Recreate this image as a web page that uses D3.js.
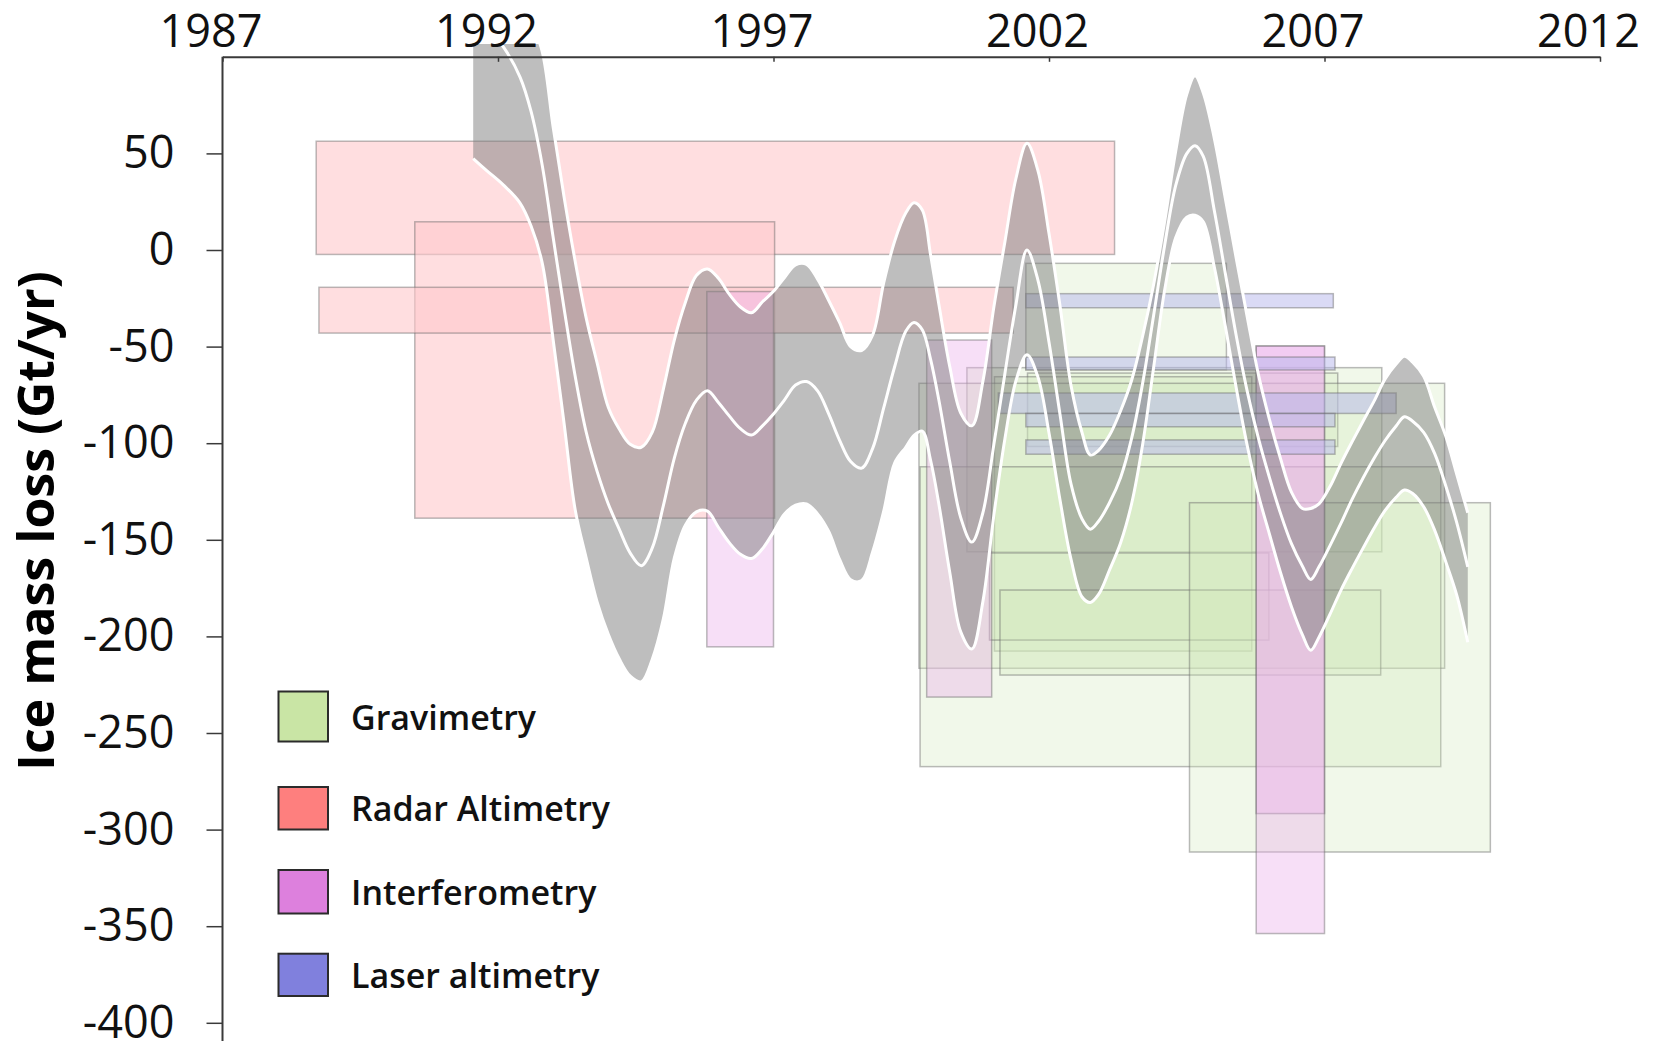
<!DOCTYPE html>
<html>
<head>
<meta charset="utf-8">
<script src="https://cdn.jsdelivr.net/npm/d3@7"></script>
<style>
  html, body { margin: 0; padding: 0; background: #ffffff; }
  svg { display: block; }
  text { font-family: "Open Sans", "DejaVu Sans", sans-serif; }
</style>
</head>
<body>
<svg id="chart" width="1665" height="1041"></svg>
<script>
// ---------- data ----------
const yearTicks = [1987, 1992, 1997, 2002, 2007, 2012];
const massTicks = [50, 0, -50, -100, -150, -200, -250, -300, -350, -400];

const methods = ["Gravimetry", "Radar Altimetry", "Interferometry", "Laser altimetry"];
const methodSwatches = ["#c9e5a5", "#fe7f7e", "#dd80dd", "#8080dd"];

// Published estimates: [start year, end year, upper bound, lower bound] in Gt/yr
const gravimetry = [
  [2001.58, 2005.22,   -6.9,  -62.0],
  [2000.51, 2008.04,  -60.9, -156.2],
  [2001.61, 2007.24,  -63.7, -101.7],
  [2001.01, 2005.68,  -65.6, -207.6],
  [1999.64, 2009.18,  -69.0, -216.5],
  [1999.66, 2009.11, -112.2, -267.4],
  [2000.92, 2005.99, -156.8, -201.9],
  [2001.11, 2008.02, -176.0, -220.0],
  [2004.55, 2010.01, -130.8, -311.6]
];
const radarAltimetry = [
  [1988.70, 2003.19,  56.3,   -2.3],
  [1990.49, 1997.02,  14.6, -138.8],
  [1988.75, 2001.35, -19.3,  -43.0]
];
const interferometry = [
  [1995.79, 1997.00, -21.5, -205.4],
  [1999.78, 2000.96, -46.6, -231.4],
  [2005.76, 2007.00, -49.7, -291.7],
  [2005.76, 2007.00, -49.7, -353.8]
];
const laserAltimetry = [
  [2001.58, 2007.16, -22.6,  -29.9],
  [2001.58, 2007.19, -55.4,  -62.1],
  [2001.08, 2008.30, -74.0,  -84.6],
  [2001.58, 2007.19, -84.6,  -91.5],
  [2001.58, 2007.19, -98.3, -105.7]
];

// Smoothed mass-balance series with its uncertainty envelope (Gt/yr)
const bandYears = [
  1991.55, 1991.8, 1992.1, 1992.4, 1992.6, 1992.8, 1993.0, 1993.2, 1993.4, 1993.6,
  1993.8, 1994.0, 1994.2, 1994.4, 1994.6, 1994.8, 1995.0, 1995.2, 1995.4, 1995.6,
  1995.8, 1996.0, 1996.2, 1996.4, 1996.6, 1996.8, 1997.0, 1997.2, 1997.4, 1997.6,
  1997.8, 1998.0, 1998.2, 1998.4, 1998.6, 1998.8, 1999.0, 1999.2, 1999.4, 1999.55,
  1999.7, 1999.85, 2000.0, 2000.2, 2000.4, 2000.6, 2000.8, 2001.0, 2001.2, 2001.4,
  2001.6, 2001.8, 2002.0, 2002.2, 2002.4, 2002.6, 2002.75, 2002.9, 2003.1, 2003.3,
  2003.5, 2003.7, 2003.9, 2004.1, 2004.3, 2004.5, 2004.65, 2004.8, 2005.0, 2005.2,
  2005.4, 2005.6, 2005.8, 2006.0, 2006.2, 2006.4, 2006.6, 2006.75, 2006.9, 2007.1,
  2007.3, 2007.5, 2007.7, 2007.9, 2008.1, 2008.3, 2008.45, 2008.6, 2008.8, 2009.0,
  2009.2, 2009.4, 2009.6
];
const bandUpper = [
  160, 150, 140, 128, 118, 103, 63.8, 27.3, -5.7, -35.1,
  -58.6, -81.3, -92.7, -100.6, -102.1, -94.3, -72.1, -46.6, -27.2, -13.2,
  -9.8, -14.6, -23.0, -29.5, -32.5, -26.8, -21.4, -14.2, -7.7, -7.4,
  -15.1, -26.0, -37.6, -50.0, -52.0, -44.0, -17.0, 4.7, 19.1, 24.5,
  20.7, -2.4, -28.0, -60.5, -84.5, -91.0, -68.0, -29.4, 4.3, 37.0,
  55.2, 41.0, 8.5, -29.0, -70.2, -94.6, -106.1, -103.7, -95.8, -83.2,
  -67.4, -44.5, -17.7, 15.0, 51.2, 80.6, 90.2, 81.3, 57.8, 26.7,
  -4.6, -35.0, -64.4, -87.7, -107.8, -125.3, -133.8, -133.8, -131.4, -122.4,
  -110.4, -99.3, -88.6, -78.2, -66.7, -59.0, -55.0, -58.1, -65.4, -81.4,
  -96.3, -116.1, -136.0
];
const bandCentral = [
  125, 115, 105, 89.5, 71.7, 44.3, 6.7, -30.4, -65.2, -94.2,
  -114.7, -131.3, -144.5, -156.9, -163.4, -154.2, -132.4, -107.7, -89.7, -77.8,
  -72.8, -78.9, -86.0, -92.5, -95.8, -91.0, -84.9, -77.6, -69.9, -68.1,
  -72.9, -84.7, -98.5, -109.5, -112.9, -102.7, -81.7, -60.3, -42.1, -37.5,
  -41.3, -56.5, -77.5, -109.9, -138.7, -151.2, -136.0, -100.5, -63.9, -28.3,
  0.0, -15.7, -47.8, -85.1, -121.2, -139.2, -144.5, -140.4, -130.7, -117.7,
  -97.4, -68.9, -33.6, 2.6, 33.4, 49.9, 54.0, 48.4, 20.4, -12.1,
  -44.6, -73.4, -97.4, -117.7, -136.2, -152.0, -163.7, -170.5, -164.0, -153.0,
  -141.4, -129.1, -118.0, -107.8, -98.6, -91.1, -86.3, -88.6, -94.4, -105.4,
  -122.0, -141.1, -164.0
];
const bandLower = [
  47.3, 41.0, 33.6, 24.3, 12.4, -6.4, -46.3, -89.9, -134.3, -159.4,
  -182.3, -198.8, -211.6, -220.6, -223.5, -211.8, -191.1, -159.4, -142.4, -135.5,
  -135.2, -143.5, -151.6, -157.5, -159.7, -154.6, -146.0, -136.6, -132.1, -131.4,
  -136.6, -145.6, -160.2, -170.7, -171.1, -156.2, -135.2, -110.2, -102.1, -96.0,
  -93.7, -108.7, -131.3, -167.0, -197.8, -206.5, -182.0, -137.1, -97.7, -67.7,
  -54.2, -65.8, -94.7, -129.4, -160.1, -179.6, -182.4, -178.3, -165.5, -151.5,
  -131.2, -100.5, -60.6, -20.6, 6.4, 17.0, 18.0, 14.6, -8.8, -39.4,
  -71.7, -101.6, -126.7, -147.0, -166.8, -184.6, -199.2, -207.2, -200.4, -188.5,
  -176.0, -164.9, -154.3, -144.0, -134.8, -128.0, -124.2, -126.0, -132.9, -145.1,
  -161.3, -178.6, -203.0
];

// ---------- layout ----------
const W = 1665, H = 1041;
const svg = d3.select("#chart");

const x = d3.scaleLinear().domain([1987, 2012]).range([222.5, 1600]);
const y = d3.scaleLinear().domain([-400, 100]).range([1022.8, 56.8]);

// plain hyphen for negative tick labels
const plainNumber = d => String(d);

// ---------- estimate rectangles ----------
const rectStyles = [
  { rows: gravimetry,     fill: "rgb(207,232,184)", opacity: 0.3 },
  { rows: radarAltimetry, fill: "rgb(255,200,203)", opacity: 0.6 },
  { rows: interferometry, fill: "rgb(235,175,235)", opacity: 0.4 },
  { rows: laserAltimetry, fill: "rgb(182,182,236)", opacity: 0.5 }
];

const rectLayer = svg.append("g");
rectStyles.forEach(s => {
  rectLayer.append("g")
    .selectAll("rect")
    .data(s.rows)
    .join("rect")
      .attr("x", d => x(d[0]))
      .attr("y", d => y(d[2]))
      .attr("width", d => x(d[1]) - x(d[0]))
      .attr("height", d => y(d[3]) - y(d[2]))
      .attr("fill", s.fill)
      .attr("fill-opacity", s.opacity)
      .attr("stroke", "rgba(105,105,105,0.45)")
      .attr("stroke-width", 1.5);
});

// ---------- smoothed series with envelope ----------
const band = bandYears.map((t, i) => ({
  t, hi: bandUpper[i], mid: bandCentral[i], lo: bandLower[i]
}));

svg.append("defs").append("clipPath").attr("id", "bandClip")
  .append("rect").attr("x", 0).attr("y", 44).attr("width", W).attr("height", H - 44);

const curve = d3.curveCatmullRom.alpha(0.5);
const bandLayer = svg.append("g").attr("clip-path", "url(#bandClip)");

bandLayer.append("path")
  .datum(band)
  .attr("d", d3.area().x(d => x(d.t)).y0(d => y(d.lo)).y1(d => y(d.hi)).curve(curve))
  .attr("fill", "#7d7d7d")
  .attr("fill-opacity", 0.5);

["hi", "mid", "lo"].forEach(key => {
  bandLayer.append("path")
    .datum(band)
    .attr("d", d3.line().x(d => x(d.t)).y(d => y(d[key])).curve(curve))
    .attr("fill", "none")
    .attr("stroke", "#ffffff")
    .attr("stroke-width", 3)
    .attr("stroke-linejoin", "round");
});

// ---------- axes ----------
const xAxis = svg.append("g")
  .attr("transform", `translate(0,${y(100)})`)
  .call(d3.axisTop(x).tickValues(yearTicks).tickFormat(plainNumber)
        .tickSizeInner(-5).tickSizeOuter(0).tickPadding(10));
xAxis.select(".domain").attr("stroke", "#3a3a3a").attr("stroke-width", 2);
xAxis.selectAll(".tick line").attr("stroke", "#3a3a3a").attr("stroke-width", 1.5);
xAxis.selectAll(".tick text")
  .attr("dx", -12)
  .attr("fill", "#111")
  .style("font-size", "45px");

const yAxis = svg.append("g")
  .attr("transform", `translate(${x(1987)},0)`)
  .call(d3.axisLeft(y).tickValues(massTicks).tickFormat(plainNumber)
        .tickSize(16).tickPadding(32));
yAxis.select(".domain").remove();
yAxis.append("line")
  .attr("x1", 0).attr("x2", 0)
  .attr("y1", y(100)).attr("y2", H)
  .attr("stroke", "#3a3a3a").attr("stroke-width", 2);
yAxis.selectAll(".tick line").attr("stroke", "#3a3a3a").attr("stroke-width", 1.5);
yAxis.selectAll(".tick text")
  .attr("fill", "#111")
  .style("font-size", "45px");

svg.append("text")
  .attr("transform", "translate(54,521) rotate(-90)")
  .attr("text-anchor", "middle")
  .attr("fill", "#000")
  .style("font-size", "50px")
  .style("font-weight", 700)
  .text("Ice mass loss (Gt/yr)");

// ---------- legend ----------
const legendTop = [691.5, 787, 870, 953.7];
const legendH = [50, 42.5, 43.5, 42.3];
const legend = svg.append("g");
methods.forEach((name, i) => {
  legend.append("rect")
    .attr("x", 278.5).attr("y", legendTop[i])
    .attr("width", 49.5).attr("height", legendH[i])
    .attr("fill", methodSwatches[i])
    .attr("stroke", "#2b2b2b").attr("stroke-width", 2);
  legend.append("text")
    .attr("x", 351)
    .attr("y", legendTop[i] + legendH[i] / 2 + 13)
    .attr("fill", "#111")
    .style("font-size", "34px")
    .style("font-weight", 600)
    .text(name);
});
</script>
</body>
</html>
